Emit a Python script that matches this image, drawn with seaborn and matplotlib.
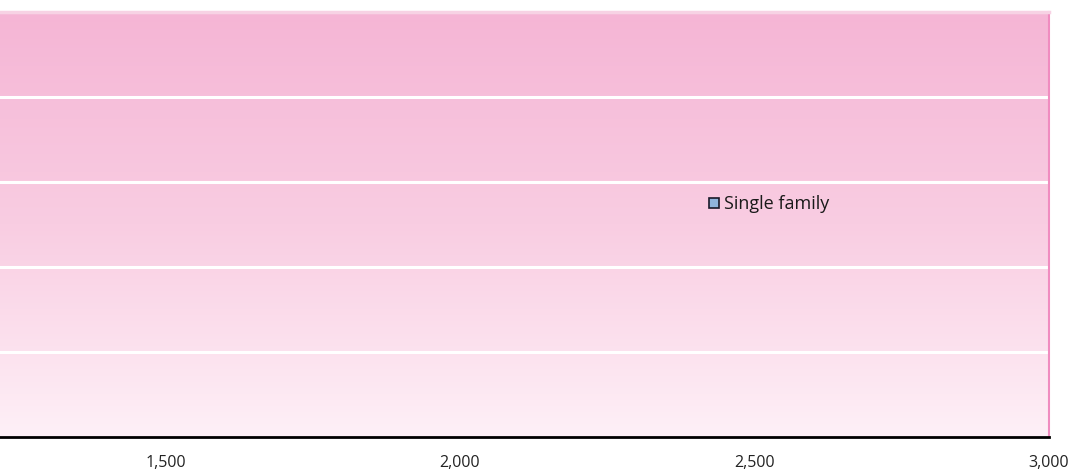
import numpy as np
import matplotlib
matplotlib.use("Agg")
import matplotlib.pyplot as plt
from matplotlib.colors import LinearSegmentedColormap
from matplotlib.lines import Line2D
import seaborn as sns

# Axis settings
x_min = 1000
x_ticks = [1500, 2000, 2500, 3000]
x_tick_labels = ["1,500", "2,000", "2,500", "3,000"]
y_ticks = [0, 1, 2, 3, 4, 5]
series_name = "Single family"

sns.set_theme(style="white")
plt.rcParams["font.family"] = ["Open Sans", "DejaVu Sans"]

fig = plt.figure(figsize=(10.73, 4.73), dpi=100)
left_px, right_px, top_px, bottom_px = -129, 1049, 12, 437
W, H = 1073, 473
ax = fig.add_axes([left_px / W, 1 - bottom_px / H,
                   (right_px - left_px) / W, (bottom_px - top_px) / H])

ax.set_xlim(x_min, x_ticks[-1])
ax.set_ylim(y_ticks[0], y_ticks[-1])

# Vertical pink gradient fill for the plot area
cmap = LinearSegmentedColormap.from_list("pinkfade", ["#fef0f7", "#f9cde2", "#f5b5d5"])
grad = np.linspace(0, 1, 256).reshape(-1, 1)
ax.imshow(grad, cmap=cmap, aspect="auto", origin="lower",
          extent=[x_min, x_ticks[-1], y_ticks[0], y_ticks[-1]], zorder=0)

ax.set_xticks(x_ticks)
ax.set_xticklabels(x_tick_labels, fontsize=11.5, color="#222222")
ax.set_yticks(y_ticks)
ax.set_yticklabels([])
ax.yaxis.grid(True, color="white", linewidth=2.2)
ax.xaxis.grid(False)
for gl in ax.get_ygridlines():
    gl.set_zorder(1)

ax.tick_params(axis="x", direction="out", length=4, width=1.2, color="black", pad=9)
ax.tick_params(axis="y", length=0)

ax.spines["bottom"].set_color("black")
ax.spines["bottom"].set_linewidth(2)
ax.spines["right"].set_color("#f08cc0")
ax.spines["right"].set_linewidth(1.5)
ax.spines["top"].set_color("#f7d2e4")
ax.spines["top"].set_linewidth(2.5)
ax.spines["left"].set_visible(False)

handle = Line2D([], [], linestyle="none", marker="s", markersize=7,
                markerfacecolor="#8fb4dc", markeredgecolor="#1a1a2a",
                markeredgewidth=1.2)
leg = ax.legend([handle], [series_name], loc="center left",
                bbox_to_anchor=((700 - left_px) / (right_px - left_px),
                                1 - (204 - top_px) / (bottom_px - top_px)),
                frameon=False, fontsize=13, handletextpad=0.15,
                handlelength=0.8, borderaxespad=0)
for t in leg.get_texts():
    t.set_color("#1a1a1a")

fig.savefig("out.png", dpi=100)
